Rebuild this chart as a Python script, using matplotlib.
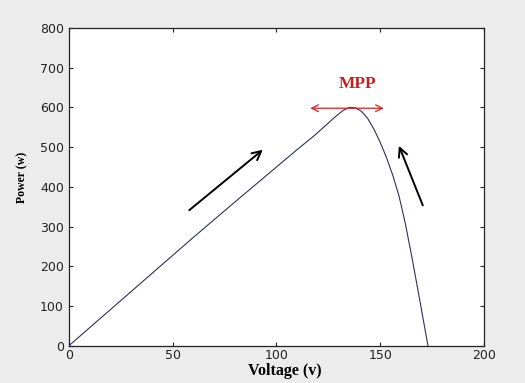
import matplotlib
matplotlib.use("Agg")
import matplotlib.pyplot as plt

# P-V curve
voltage = [0, 20, 40, 60, 80, 100, 110, 118, 124, 128, 132, 135, 138, 141, 144,
           147, 150, 153, 156, 159, 162, 165, 168, 171, 173]
power = [0, 91, 182, 273, 362, 450, 494, 528, 556, 575, 592, 600, 599, 590, 572,
         545, 512, 474, 430, 378, 310, 230, 145, 58, 0]

x_ticks = [0, 50, 100, 150, 200]
y_ticks = [0, 100, 200, 300, 400, 500, 600, 700, 800]

mpp_label = "MPP"
mpp_span = [115, 153]
mpp_power = 598
left_arrow = [(57, 337), (94.5, 498)]
right_arrow = [(171, 347), (158.5, 510)]

fig = plt.figure(figsize=(5.25, 3.83), dpi=100, facecolor="#ececec")
ax = fig.add_axes([0.131, 0.097, 0.791, 0.830])
ax.set_facecolor("white")

ax.plot(voltage, power, color="#30305a", lw=0.8)

ax.set_xlim(0, 200)
ax.set_ylim(0, 800)
ax.set_xticks(x_ticks)
ax.set_yticks(y_ticks)
ax.tick_params(direction="in", top=True, right=True, labelsize=9, length=3, width=0.8, colors="#222222")
ax.tick_params(axis="x", pad=2)
for s in ax.spines.values():
    s.set_linewidth(0.9)
    s.set_color("#222222")

ax.set_xlabel("Voltage (v)", family="Liberation Serif", fontweight="bold", fontsize=11.5, va="center")
ax.xaxis.set_label_coords(0.52, -0.08)
ax.set_ylabel("Power (w)", family="Liberation Serif", fontweight="bold", fontsize=8.5, va="center")
ax.yaxis.set_label_coords(-0.111, 0.53)

# MPP marker
ax.annotate("", xy=(mpp_span[0], mpp_power), xytext=(mpp_span[1], mpp_power),
            arrowprops=dict(arrowstyle="<->", color="#d62020", lw=0.9, mutation_scale=12))
ax.text(139, 659, mpp_label, color="#c81e1e", fontweight="bold",
        family="Liberation Serif", fontsize=12.5, ha="center", va="center")

# direction arrows
for start, end in (left_arrow, right_arrow):
    ax.annotate("", xy=end, xytext=start,
                arrowprops=dict(arrowstyle="->", color="black", lw=1.4, mutation_scale=16))

fig.savefig("out.png", dpi=100, facecolor=fig.get_facecolor())
plt.close(fig)
